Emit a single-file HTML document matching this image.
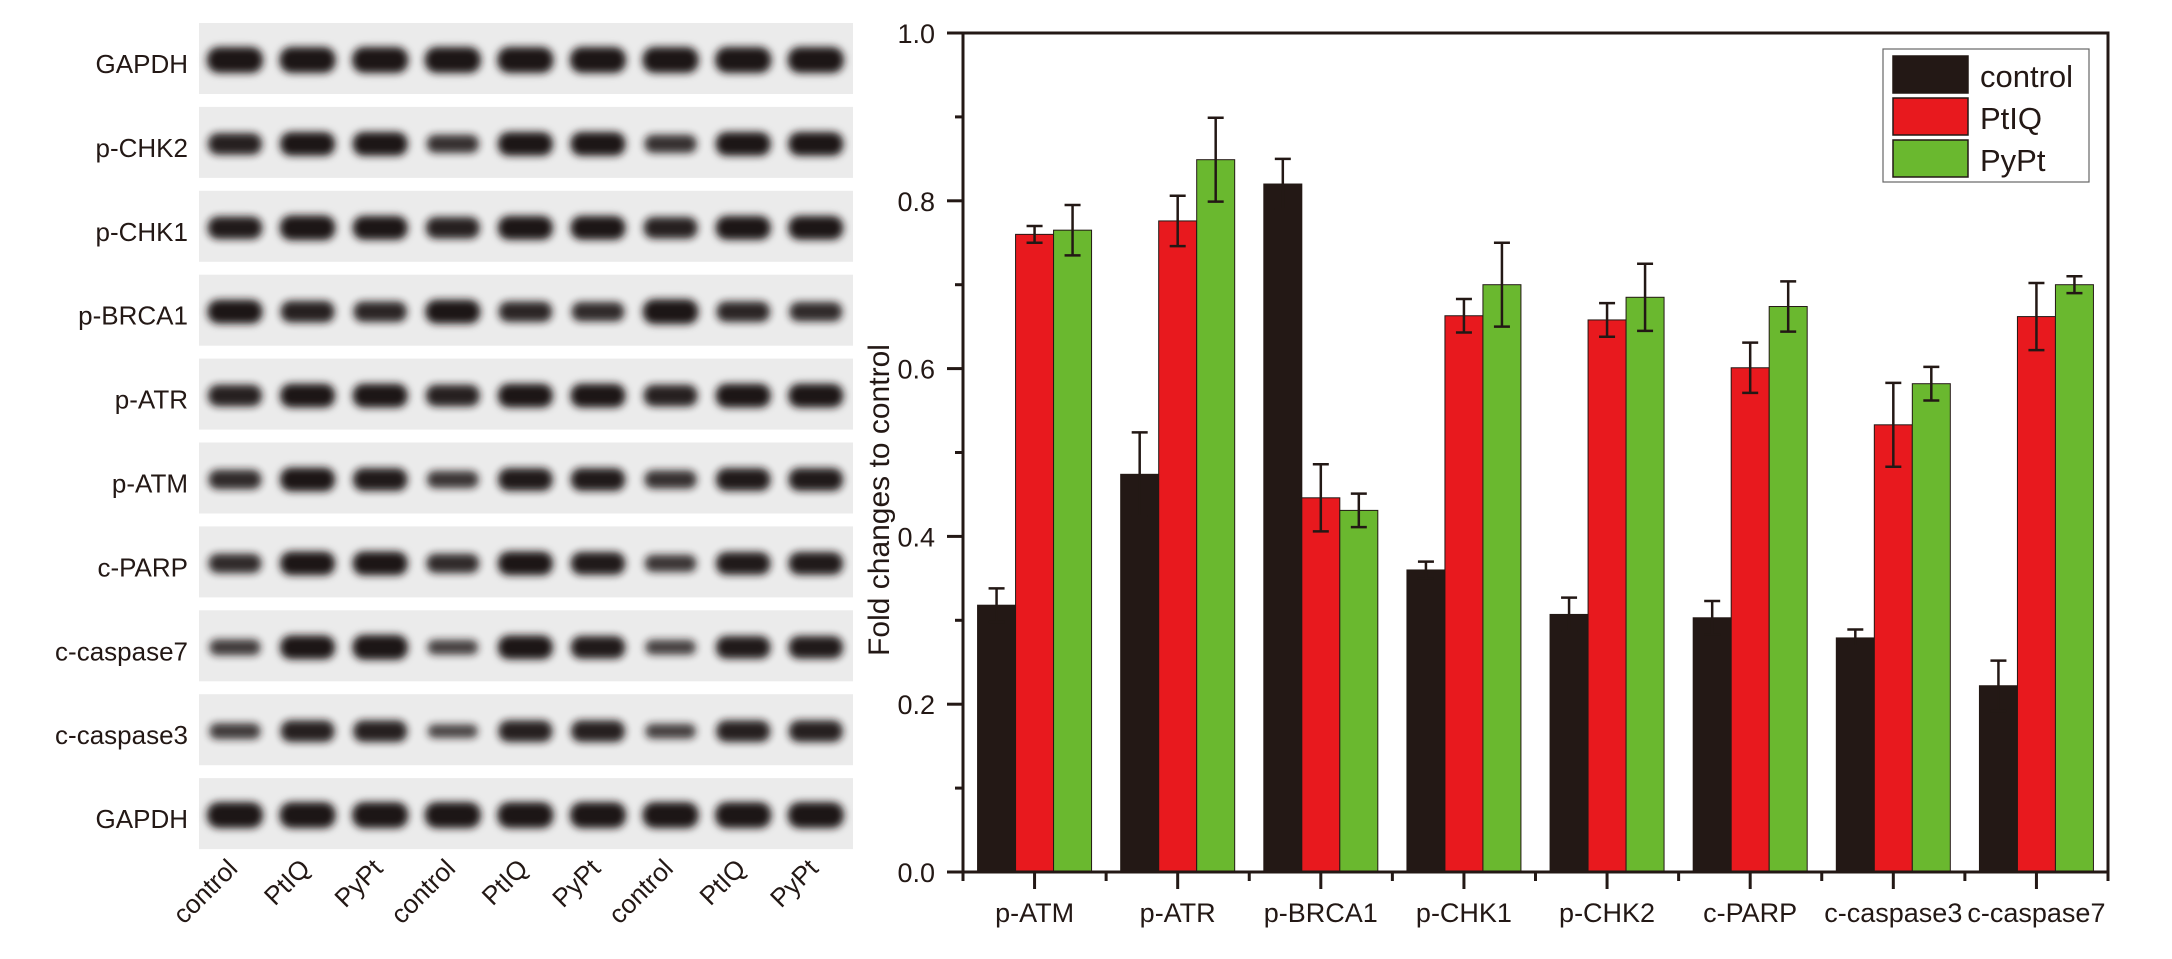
<!DOCTYPE html>
<html><head><meta charset="utf-8"><style>html,body{margin:0;padding:0;background:#fff}svg{display:block}</style></head>
<body>
<svg id="s" xmlns="http://www.w3.org/2000/svg" width="2172" height="959" viewBox="0 0 2172 959" font-family="Liberation Sans, Arial, sans-serif">
<defs>
<filter id="bl" x="-30%" y="-80%" width="160%" height="260%"><feGaussianBlur stdDeviation="4"/></filter>
</defs>
<g id="blot"></g>
<g id="chart"></g>
</svg>
<script>
const NS="http://www.w3.org/2000/svg";
function el(p,t,a,txt){const e=document.createElementNS(NS,t);for(const k in a)e.setAttribute(k,a[k]);if(txt!==undefined)e.textContent=txt;p.appendChild(e);return e;}
const blot=document.getElementById('blot');
const rows=["GAPDH","p-CHK2","p-CHK1","p-BRCA1","p-ATR","p-ATM","c-PARP","c-caspase7","c-caspase3","GAPDH"];
const str=[
[1,1,1,1,1,1,1,1,1],
[.8,.9,.9,.65,.9,.9,.65,.9,.9],
[.85,.95,.9,.8,.9,.9,.8,.9,.9],
[.9,.8,.75,.9,.75,.7,.95,.75,.7],
[.8,.9,.9,.8,.9,.9,.8,.9,.9],
[.7,.9,.85,.6,.85,.85,.65,.85,.85],
[.7,.9,.9,.7,.9,.85,.6,.85,.85],
[.55,.9,.95,.5,.9,.85,.5,.85,.85],
[.55,.8,.8,.45,.8,.8,.5,.8,.8],
[1,1,1,1,1,1,1,1,1]];
rows.forEach((r,i)=>{
 const top=23+83.9*i;
 el(blot,'rect',{x:199,y:top,width:654,height:71,fill:'#ebebeb'});
 el(blot,'text',{x:188,y:top+50,'font-size':26,'text-anchor':'end',fill:'#231815'},r);
 for(let k=0;k<9;k++){
  const cx=235+72.6*k, s=str[i][k];
  const w=56*(0.8+0.2*s), h=22*s+4;
  el(blot,'rect',{x:cx-w/2,y:top+37-h/2,width:w,height:h,rx:h/2.2,fill:'#1e1414',filter:'url(#bl)',opacity:Math.min(1,0.55+0.5*s)});
 }
});
const lab=["control","PtIQ","PyPt"];
for(let k=0;k<9;k++){
 const cx=235+72.6*k+4, y=870;
 el(blot,'text',{x:cx,y:y,'font-size':26,'text-anchor':'end',fill:'#231815',transform:`rotate(-45 ${cx} ${y})`},lab[k%3]);
}
// chart
const c=document.getElementById('chart');
const X0=963,X1=2108,Y0=872,Y1=33,S=839;
const yv=v=>Y0-S*v;
const data=[["p-ATM",[.318,.02],[.760,.01],[.765,.03]],
["p-ATR",[.474,.05],[.776,.03],[.849,.05]],
["p-BRCA1",[.820,.03],[.446,.04],[.431,.02]],
["p-CHK1",[.360,.01],[.663,.02],[.700,.05]],
["p-CHK2",[.307,.02],[.658,.02],[.685,.04]],
["c-PARP",[.303,.02],[.601,.03],[.674,.03]],
["c-caspase3",[.279,.01],[.533,.05],[.582,.02]],
["c-caspase7",[.222,.03],[.662,.04],[.700,.01]]];
const cols=["#231815","#e8191e","#6ab82f"];
const sp=(X1-X0)/8, bw=38;
data.forEach((d,i)=>{
 const gc=X0+sp*(i+.5);
 for(let j=0;j<3;j++){
  const x=gc-bw*1.5+bw*j, v=d[j+1][0], e=d[j+1][1];
  el(c,'rect',{x:x,y:yv(v),width:bw,height:Y0-yv(v),fill:cols[j],stroke:'#231815','stroke-width':1});
  const mx=x+bw/2;
  el(c,'path',{d:`M${mx} ${yv(v-e)}V${yv(v+e)}M${mx-8} ${yv(v+e)}H${mx+8}M${mx-8} ${yv(v-e)}H${mx+8}`,stroke:'#231815','stroke-width':2.5,fill:'none'});
 }
 el(c,'text',{x:gc,y:922,'font-size':27,'text-anchor':'middle',fill:'#231815'},d[0]);
 el(c,'line',{x1:gc,y1:Y0,x2:gc,y2:Y0+17,stroke:'#231815','stroke-width':3});
});
for(let i=0;i<=8;i++){const x=X0+sp*i;el(c,'line',{x1:x,y1:Y0,x2:x,y2:Y0+9,stroke:'#231815','stroke-width':3});}
for(let t=0;t<=10;t++){
 const y=yv(t/10), maj=t%2==0;
 el(c,'line',{x1:X0-(maj?16:8),y1:y,x2:X0,y2:y,stroke:'#231815','stroke-width':3});
 if(maj) el(c,'text',{x:935,y:y+10,'font-size':27,'text-anchor':'end',fill:'#231815'},(t/10).toFixed(1));
}
el(c,'rect',{x:X0,y:Y1,width:X1-X0,height:Y0-Y1,fill:'none',stroke:'#231815','stroke-width':3});
el(c,'text',{x:889,y:500,'font-size':30,'text-anchor':'middle',fill:'#231815',transform:'rotate(-90 889 500)'},"Fold changes to control");
// legend
el(c,'rect',{x:1883,y:49,width:206,height:133,fill:'#fff',stroke:'#666','stroke-width':1.2});
const ln=["control","PtIQ","PyPt"];
for(let j=0;j<3;j++){
 const y=56+42*j;
 el(c,'rect',{x:1893,y:y,width:75,height:37,fill:cols[j],stroke:'#231815','stroke-width':1.5});
 el(c,'text',{x:1980,y:y+31,'font-size':31,fill:'#231815'},ln[j]);
}
</script>
</body></html>
